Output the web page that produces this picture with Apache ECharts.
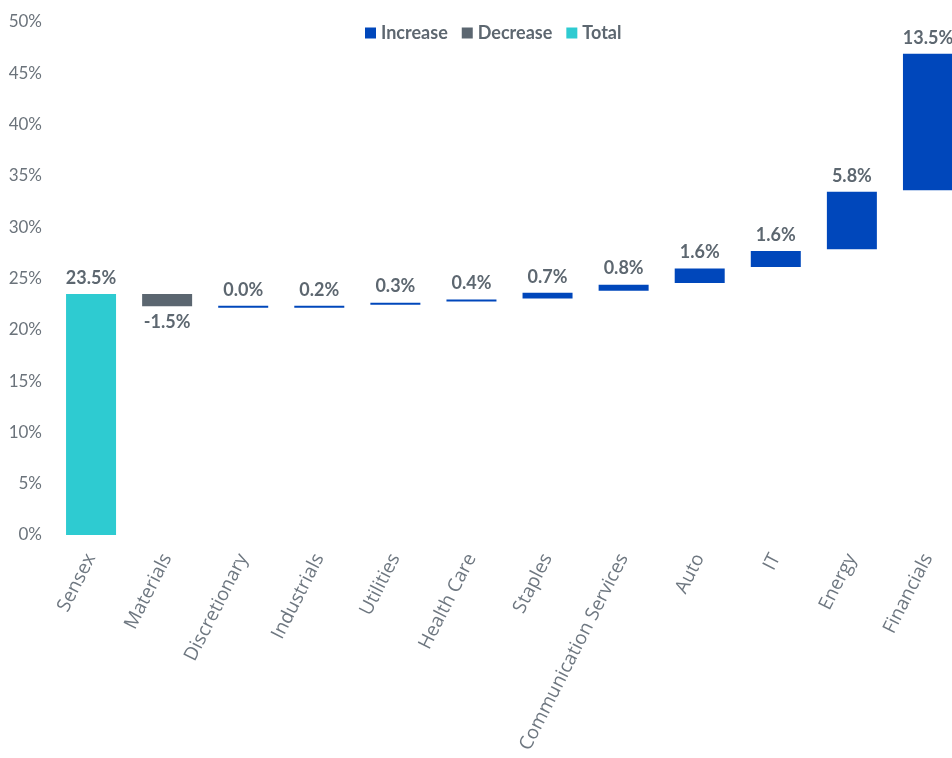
<!DOCTYPE html>
<html>
<head>
<meta charset="utf-8">
<script src="https://cdn.jsdelivr.net/npm/echarts@6/dist/echarts.min.js"></script>
<style>
  html, body { margin: 0; padding: 0; background: #fff; }
  #main { width: 952px; height: 758px; }
</style>
</head>
<body>
<div id="main"></div>
<script>
const categories = ['Sensex', 'Materials', 'Discretionary', 'Industrials', 'Utilities', 'Health Care',
  'Staples', 'Communication Services', 'Auto', 'IT', 'Energy', 'Financials'];
// invisible bottom of each floating bar
const baseVals = [0, 22.3, 22.15, 22.15, 22.45, 22.75, 23.05, 23.8, 24.57, 26.12, 27.85, 33.6];
const increaseVals = ['-', '-', 0.1, 0.1, 0.1, 0.12, 0.55, 0.6, 1.4, 1.56, 5.6, 13.3];
const decreaseVals = ['-', 1.2, '-', '-', '-', '-', '-', '-', '-', '-', '-', '-'];
const totalVals = [23.5, '-', '-', '-', '-', '-', '-', '-', '-', '-', '-', '-'];
const labelTexts = ['23.5%', '-1.5%', '0.0%', '0.2%', '0.3%', '0.4%', '0.7%', '0.8%', '1.6%', '1.6%', '5.8%', '13.5%'];
const yTicks = [0, 5, 10, 15, 20, 25, 30, 35, 40, 45, 50];

const chart = echarts.init(document.getElementById('main'));

const valueLabel = (pos) => ({
  show: true,
  position: pos,
  distance: 7,
  fontFamily: 'Lato',
  fontWeight: 'bold',
  fontSize: 18,
  color: '#5d6770',
  formatter: (p) => labelTexts[p.dataIndex]
});

const option = {
  animation: false,
  legend: {
    data: ['Increase', 'Decrease', 'Total'],
    left: 360,
    top: 19,
    itemWidth: 11,
    itemHeight: 11,
    itemGap: 14,
    icon: 'rect',
    textStyle: {
      fontFamily: 'Lato',
      fontWeight: 'bold',
      fontSize: 18,
      color: '#5d6770'
    }
  },
  grid: {
    left: 53,
    width: 913,
    top: 22,
    bottom: 223,
    outerBoundsMode: 'none'
  },
  xAxis: {
    type: 'category',
    data: categories,
    axisLine: { show: false },
    axisTick: { show: false },
    axisLabel: {
      interval: 0,
      rotate: 63,
      margin: 20,
      fontFamily: 'Open Sans',
      fontSize: 19,
      color: '#6e7780'
    }
  },
  yAxis: {
    type: 'value',
    min: yTicks[0],
    max: yTicks[yTicks.length - 1],
    interval: 5,
    splitLine: { show: false },
    axisLine: { show: false },
    axisTick: { show: false },
    axisLabel: {
      margin: 11,
      fontFamily: 'Lato',
      fontSize: 17,
      color: '#6b737b',
      formatter: '{value}%'
    }
  },
  series: [
    {
      name: 'base',
      type: 'bar',
      stack: 'wf',
      barWidth: 50,
      silent: true,
      itemStyle: { color: 'transparent' },
      data: baseVals
    },
    {
      name: 'Increase',
      type: 'bar',
      stack: 'wf',
      barWidth: 50,
      barMinHeight: 2,
      itemStyle: { color: '#0047bb' },
      label: valueLabel('top'),
      data: increaseVals
    },
    {
      name: 'Decrease',
      type: 'bar',
      stack: 'wf',
      barWidth: 50,
      itemStyle: { color: '#5b6670' },
      label: valueLabel('bottom'),
      data: decreaseVals
    },
    {
      name: 'Total',
      type: 'bar',
      stack: 'wf',
      barWidth: 50,
      itemStyle: { color: '#2ecbd1' },
      label: valueLabel('top'),
      data: totalVals
    }
  ]
};

chart.setOption(option);
</script>
</body>
</html>
